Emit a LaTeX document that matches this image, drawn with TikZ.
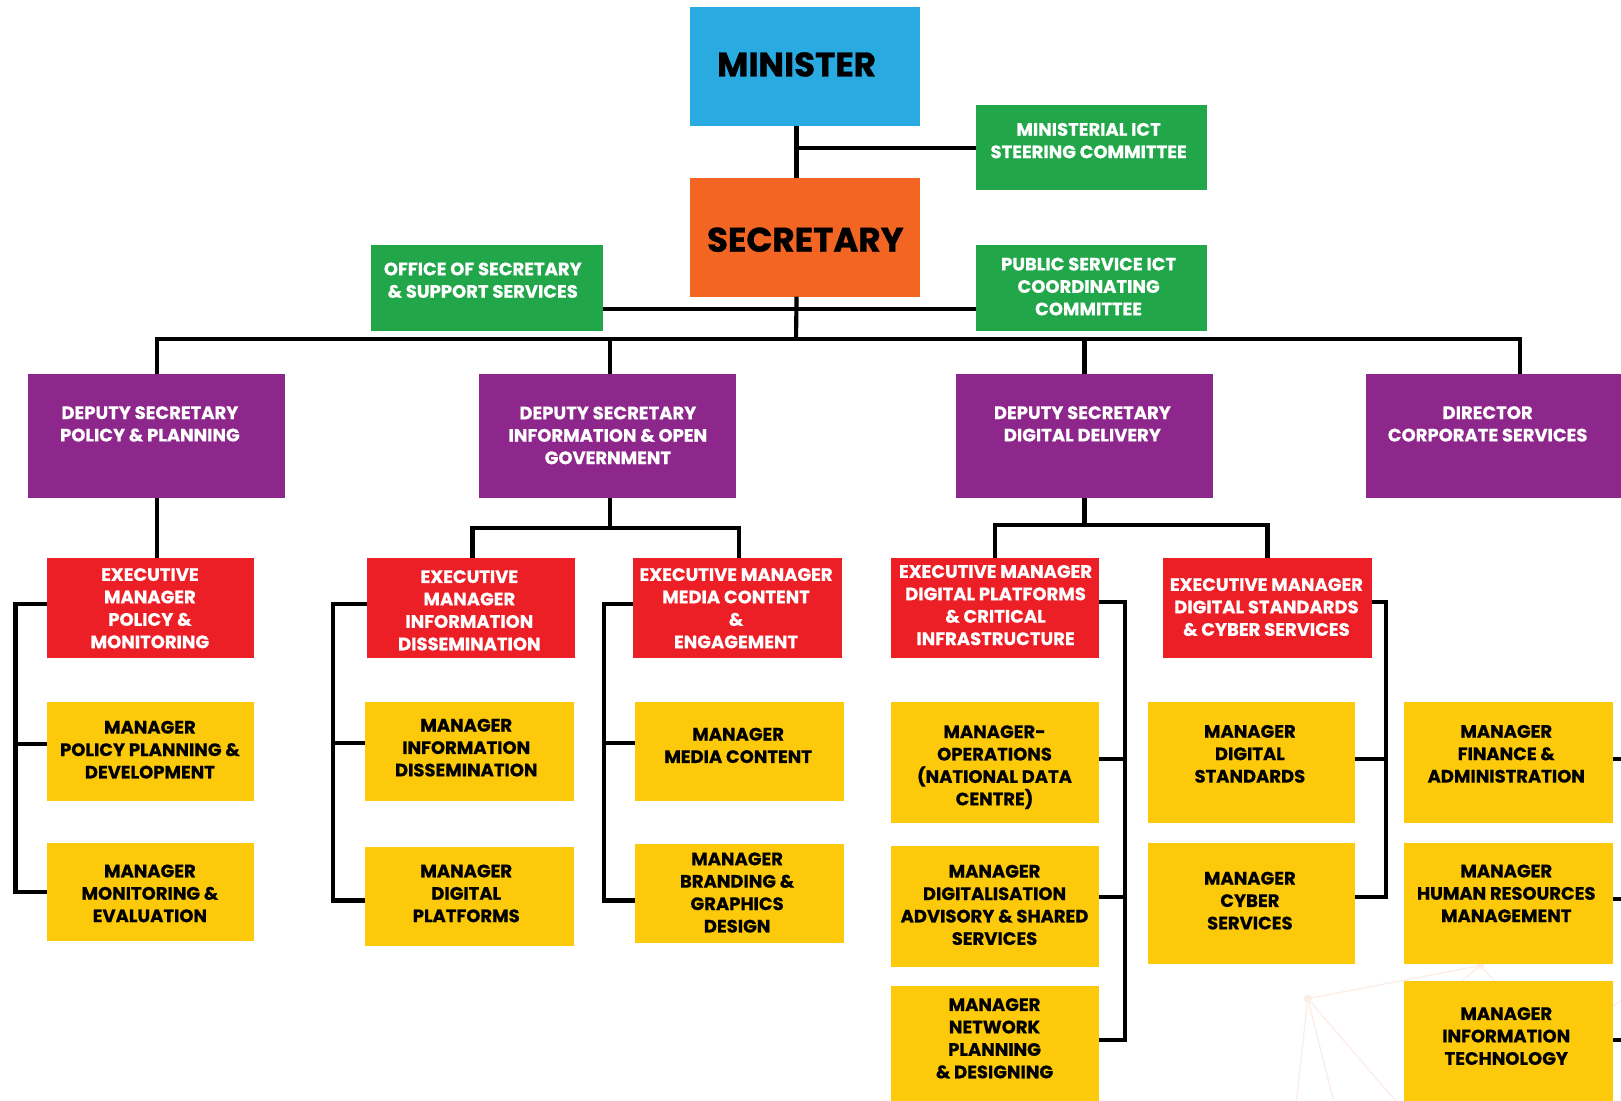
\documentclass[tikz,border=0pt]{standalone}
\usepackage{fontspec}
\setmainfont{Poppins}
\definecolor{cblue}{HTML}{29ABE2}
\definecolor{corange}{HTML}{F26522}
\definecolor{cgreen}{HTML}{21A74A}
\definecolor{cpurple}{HTML}{8E278B}
\definecolor{cred}{HTML}{EC1F27}
\definecolor{cyellow}{HTML}{FCCA0B}
\definecolor{cfaint}{HTML}{FCEDE7}
\newcommand\obox[9]{%
  \node[#2, minimum width={(#5-#3)*0.5pt}, minimum height={(#6-#4)*0.5pt}] (#1) at ({(#3+#5)/2},{(#4+#6)/2}) {};
  \node[#2-t] (t#1) at (#7,#8) {#9};}
\begin{document}
\begin{tikzpicture}[x=0.5pt, y=-0.5pt,
  conn/.style={line width=2pt, black},
  box/.style={rectangle, draw=none, inner sep=0pt, outer sep=0pt},
  txt/.style={anchor=base, align=center, inner sep=0pt, font=\fontsize{8.7}{10.85}\selectfont\bfseries\addfontfeature{FakeBold=0.6}},
  head/.style={anchor=base, align=center, inner sep=0pt, font=\fontsize{16.5}{18}\selectfont\bfseries\addfontfeature{FakeBold=1}, text=black},
  blu/.style={box, fill=cblue}, blu-t/.style={head},
  org/.style={box, fill=corange}, org-t/.style={head},
  grn/.style={box, fill=cgreen}, grn-t/.style={txt, text=white},
  pur/.style={box, fill=cpurple}, pur-t/.style={txt, text=white},
  red/.style={box, fill=cred}, red-t/.style={txt, text=white},
  yel/.style={box, fill=cyellow}, yel-t/.style={txt, text=black},
  deco/.style={cfaint, line width=0.6pt}]
\useasboundingbox (0,0) rectangle (1568,1065);
\fill[white] (0,0) rectangle (1568,1065);
% faint background decoration
\draw[deco] (1265,966) -- (1432,934);
\draw[deco] (1265,966) -- (1254,1065);
\draw[deco] (1265,966) -- (1290,1065);
\draw[deco] (1265,966) -- (1350,1065);
\draw[deco] (1432,934) -- (1470,975);
\draw[deco] (1432,934) -- (1400,960);
\draw[deco] (1550,980) -- (1568,968);
\fill[cfaint] (1265,966) circle (4);
\fill[cfaint] (1432,934) circle (3.5);
% top
\obox{min}{blu}{667}{7}{890}{122}{770.5}{74}{MINISTER}
\obox{sec}{org}{667}{172}{890}{287}{779}{243.5}{SECRETARY}
\obox{mict}{grn}{944}{102}{1168}{184}{1053}{153}{MINISTERIAL ICT\\STEERING COMMITTEE}
\obox{off}{grn}{359}{237}{583}{320}{467}{288}{OFFICE OF SECRETARY\\\& SUPPORT SERVICES}
\obox{psc}{grn}{944}{237}{1168}{320}{1053}{305}{PUBLIC SERVICE ICT\\COORDINATING\\COMMITTEE}
% deputies
\obox{ds1}{pur}{27}{362}{276}{482}{145}{427}{DEPUTY SECRETARY\\POLICY \& PLANNING}
\obox{ds2}{pur}{463}{362}{712}{482}{588}{449}{DEPUTY SECRETARY\\INFORMATION \& OPEN\\GOVERNMENT}
\obox{ds3}{pur}{925}{362}{1173}{482}{1047}{427}{DEPUTY SECRETARY\\DIGITAL DELIVERY}
\obox{ds4}{pur}{1321}{362}{1568}{482}{1439}{427}{DIRECTOR\\CORPORATE SERVICES}
% executive managers
\obox{em1}{red}{45}{540}{246}{636}{145}{627}{EXECUTIVE\\MANAGER\\POLICY \&\\MONITORING}
\obox{em2}{red}{355}{540}{556}{636}{454}{629}{EXECUTIVE\\MANAGER\\INFORMATION\\DISSEMINATION}
\obox{em3}{red}{612}{540}{814}{636}{712}{627}{EXECUTIVE MANAGER\\MEDIA CONTENT\\\&\\ENGAGEMENT}
\obox{em4}{red}{862}{540}{1063}{636}{963}{624}{EXECUTIVE MANAGER\\DIGITAL PLATFORMS\\\& CRITICAL\\INFRASTRUCTURE}
\obox{em5}{red}{1125}{540}{1327}{636}{1225}{615}{EXECUTIVE MANAGER\\DIGITAL STANDARDS\\\& CYBER SERVICES}
% managers
\obox{m11}{yel}{45}{679}{246}{775}{145}{753}{MANAGER\\POLICY PLANNING \&\\DEVELOPMENT}
\obox{m12}{yel}{45}{815}{246}{910}{145}{892}{MANAGER\\MONITORING \&\\EVALUATION}
\obox{m21}{yel}{353}{679}{555}{775}{451}{751}{MANAGER\\INFORMATION\\DISSEMINATION}
\obox{m22}{yel}{353}{819}{555}{915}{451}{892}{MANAGER\\DIGITAL\\PLATFORMS}
\obox{m31}{yel}{614}{679}{816}{775}{714}{738}{MANAGER\\MEDIA CONTENT}
\obox{m32}{yel}{614}{816}{816}{912}{713}{902}{MANAGER\\BRANDING \&\\GRAPHICS\\DESIGN}
\obox{m41}{yel}{862}{679}{1063}{796}{962}{779}{MANAGER-\\OPERATIONS\\(NATIONAL DATA\\CENTRE)}
\obox{m42}{yel}{862}{818}{1063}{935}{962}{914}{MANAGER\\DIGITALISATION\\ADVISORY \& SHARED\\SERVICES}
\obox{m43}{yel}{862}{954}{1063}{1065}{962}{1043}{MANAGER\\NETWORK\\PLANNING\\\& DESIGNING}
\obox{m51}{yel}{1110}{679}{1311}{796}{1209}{757}{MANAGER\\DIGITAL\\STANDARDS}
\obox{m52}{yel}{1110}{815}{1311}{932}{1209}{899}{MANAGER\\CYBER\\SERVICES}
\obox{m61}{yel}{1358}{679}{1560}{796}{1457}{757}{MANAGER\\FINANCE \&\\ADMINISTRATION}
\obox{m62}{yel}{1358}{815}{1560}{932}{1457}{892}{MANAGER\\HUMAN RESOURCES\\MANAGEMENT}
\obox{m63}{yel}{1358}{949}{1560}{1065}{1457}{1030}{MANAGER\\INFORMATION\\TECHNOLOGY}
% connectors: top
\draw[conn] ([xshift=-4pt]min.south) -- ([xshift=-4pt]sec.north);
\draw[conn] (mict.west) -- ([xshift=-4pt]min.south |- mict.west);
\draw[conn] ([yshift=-10.25pt]off.east) -- ([yshift=-10.25pt]psc.west);
\coordinate (bus) at (770,328);
\draw[conn] ([xshift=-4pt]sec.south) -- (bus);
\draw[conn] (ds1.north) -- (ds1.north |- bus) -- ([xshift=13pt]ds4.north |- bus) -- ([xshift=13pt]ds4.north);
\draw[conn] ([xshift=1.25pt]ds2.north) -- ([xshift=1.25pt]ds2.north |- bus);
\draw[conn] (ds3.north) -- (ds3.north |- bus);
% deputies to executive managers
\draw[conn] (ds1.south) -- (ds1.south |- em1.north);
\draw[conn] ([xshift=1.25pt]ds2.south) -- ++(0,29);
\draw[conn] ([xshift=0.75pt]em2.north) -- ++(0,-29) -| ([xshift=1pt]em3.north);
\draw[conn] (ds3.south) -- ++(0,26);
\draw[conn] (em4.north) -- ++(0,-32) -| (em5.north);
% brackets
\draw[conn] ([yshift=2pt]em1.west) -- ++(-30,0) |- (m12.west);
\draw[conn] ([yshift=3.5pt]m11.west) -- ++(-30,0);
\draw[conn] ([yshift=2pt]em2.west) -- ++(-33,0) |- ([yshift=-2pt]m22.west);
\draw[conn] ([yshift=4pt]m21.west) -- ++(-31,0);
\draw[conn] ([yshift=2pt]em3.west) -- ++(-28,0) |- ([yshift=-3.5pt]m32.west);
\draw[conn] ([yshift=4pt]m31.west) -- ++(-30,0);
\draw[conn] ([yshift=3pt]em4.east) -- ++(25,0) |- ([yshift=1.75pt]m43.east);
\draw[conn] ([yshift=1.75pt]m41.east) -- ++(25,0);
\draw[conn] ([yshift=4.25pt]m42.east) -- ++(25,0);
\draw[conn] ([yshift=3pt]em5.east) -- ++(14,0) |- ([yshift=2.75pt]m52.east);
\draw[conn] ([yshift=1.75pt]m51.east) -- ++(30,0);
\draw[conn] ([yshift=1.75pt]m61.east) -- ++(12,0);
\draw[conn] ([yshift=1.75pt]m62.east) -- ++(12,0);
\draw[conn] ([yshift=0.5pt]m63.east) -- ++(12,0);
\end{tikzpicture}
\end{document}
